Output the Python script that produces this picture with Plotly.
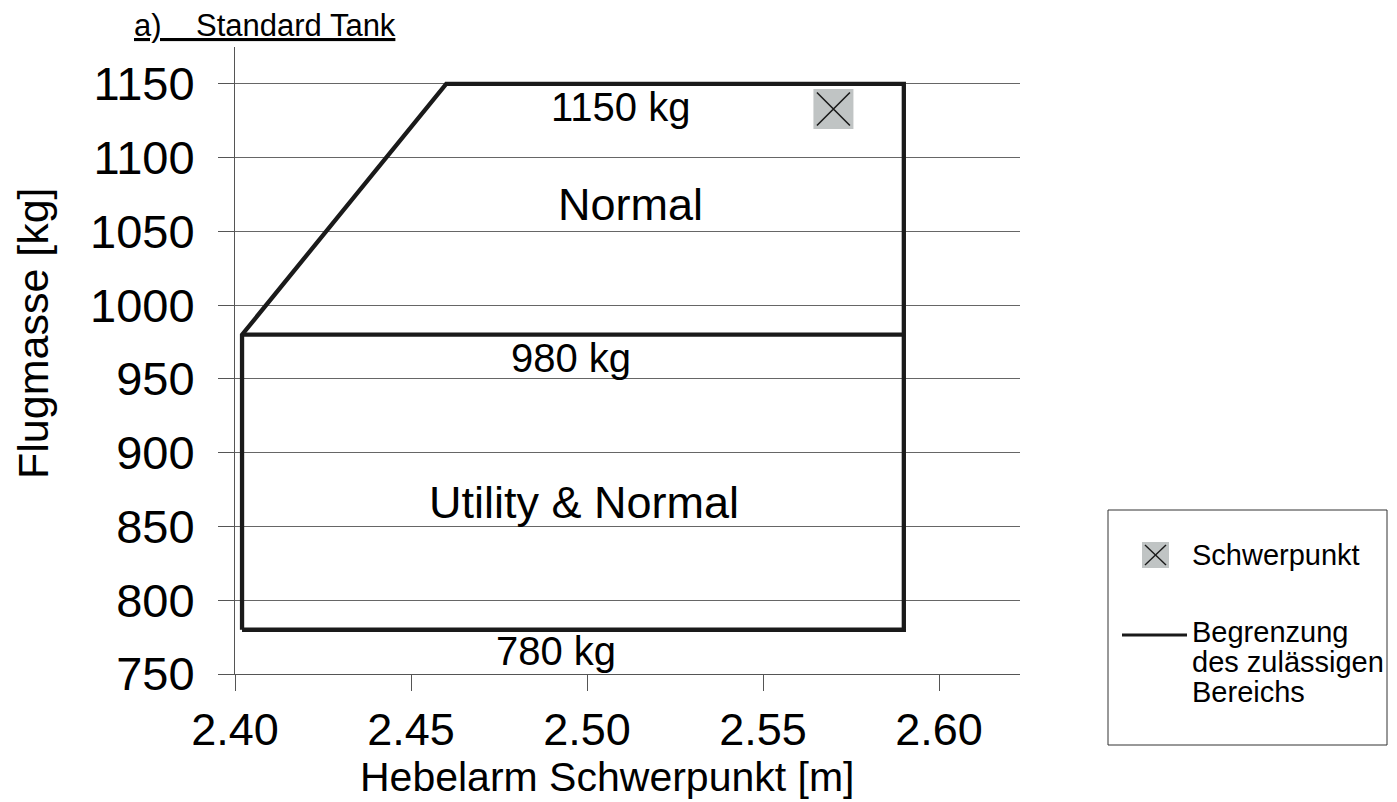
import plotly.graph_objects as go

# ---------------- data ----------------
boundary_x = [2.402, 2.402, 2.46, 2.59, 2.59, 2.402]
boundary_y = [780, 980, 1150, 1150, 780, 780]
divider_x = [2.402, 2.59]
divider_y = [980, 980]
cg_x = [2.57]
cg_y = [1133]
x_ticks = [2.40, 2.45, 2.50, 2.55, 2.60]
x_tick_labels = ["2.40", "2.45", "2.50", "2.55", "2.60"]
y_ticks = [750, 800, 850, 900, 950, 1000, 1050, 1100, 1150]
y_tick_labels = [str(v) for v in y_ticks]
limit_labels = ["1150 kg", "980 kg", "780 kg"]
limit_values = [1150, 980, 780]
region_labels = ["Normal", "Utility & Normal"]
title_text = "a)\u00a0\u00a0\u00a0\u00a0Standard Tank"
x_title = "Hebelarm Schwerpunkt [m]"
y_title = "Flugmasse [kg]"
legend_cg = "Schwerpunkt"
legend_limit = ["Begrenzung", "des zulässigen", "Bereichs"]

FONT = "Liberation Sans, Arial, sans-serif"
W, H = 1397, 802
L, R, T, B = 235, 1020, 47, 674   # plot area in pixels


def PX(px):
    return (px - L) / (R - L)


def PY(py):
    return (B - py) / (B - T)


fig = go.Figure()

fig.add_trace(go.Scatter(
    x=boundary_x + [None] + divider_x,
    y=boundary_y + [None] + divider_y,
    mode="lines",
    line=dict(color="#1a1a1a", width=4.3),
    hoverinfo="skip", showlegend=False, connectgaps=False,
))
fig.add_trace(go.Scatter(
    x=cg_x, y=cg_y, mode="markers",
    marker=dict(symbol="square", size=40, color="#C0C4C4", line=dict(width=0)),
    hoverinfo="skip", showlegend=False,
))
fig.add_trace(go.Scatter(
    x=cg_x, y=cg_y, mode="markers",
    marker=dict(symbol="x-thin", size=33, line=dict(width=1.6, color="#1a1a1a")),
    hoverinfo="skip", showlegend=False,
))

ann = []
limit_pos = {1150: (620, 107), 980: (571, 358), 780: (556, 651)}
for txt, v in zip(limit_labels, limit_values):
    px, py = limit_pos[v]
    ann.append(dict(text=txt, x=PX(px), y=PY(py), xref="paper", yref="paper",
                    showarrow=False, xanchor="center", yanchor="middle",
                    font=dict(family=FONT, size=40, color="black")))
region_pos = [(630, 205), (584, 502)]
for txt, (px, py) in zip(region_labels, region_pos):
    ann.append(dict(text=txt, x=PX(px), y=PY(py), xref="paper", yref="paper",
                    showarrow=False, xanchor="center", yanchor="middle",
                    font=dict(family=FONT, size=45, color="black")))
# title
ann.append(dict(text="<u>" + title_text + "</u>", x=PX(132), y=PY(26), xref="paper", yref="paper",
                showarrow=False, xanchor="left", yanchor="middle",
                font=dict(family=FONT, size=31, color="black")))
# axis titles
ann.append(dict(text=x_title, x=PX(607), y=PY(777), xref="paper", yref="paper",
                showarrow=False, xanchor="center", yanchor="middle",
                font=dict(family=FONT, size=41, color="black")))
ann.append(dict(text=y_title, x=PX(33), y=PY(333), xref="paper", yref="paper",
                showarrow=False, xanchor="center", yanchor="middle", textangle=-90,
                font=dict(family=FONT, size=43, color="black")))
# legend texts
ann.append(dict(text=legend_cg, x=PX(1190), y=PY(555), xref="paper", yref="paper",
                showarrow=False, xanchor="left", yanchor="middle",
                font=dict(family=FONT, size=29, color="black")))
for i, t in enumerate(legend_limit):
    ann.append(dict(text=t, x=PX(1190), y=PY(632 + 30 * i), xref="paper", yref="paper",
                    showarrow=False, xanchor="left", yanchor="middle",
                    font=dict(family=FONT, size=29, color="black")))

shapes = [
    dict(type="rect", xref="paper", yref="paper", x0=PX(1108), x1=PX(1387), y0=PY(745), y1=PY(510),
         line=dict(color="#333333", width=1), fillcolor="white", layer="below"),
    dict(type="rect", xref="paper", yref="paper", x0=PX(1142), x1=PX(1169), y0=PY(568), y1=PY(542),
         line=dict(width=0), fillcolor="#C0C4C4"),
    dict(type="line", xref="paper", yref="paper", x0=PX(1145), x1=PX(1166), y0=PY(545), y1=PY(565),
         line=dict(color="#1a1a1a", width=1.4)),
    dict(type="line", xref="paper", yref="paper", x0=PX(1145), x1=PX(1166), y0=PY(565), y1=PY(545),
         line=dict(color="#1a1a1a", width=1.4)),
    dict(type="line", xref="paper", yref="paper", x0=PX(1122), x1=PX(1187), y0=PY(635), y1=PY(635),
         line=dict(color="#1a1a1a", width=3)),
]

fig.update_layout(
    width=W, height=H,
    margin=dict(l=L, r=W - R, t=T, b=H - B, pad=0),
    paper_bgcolor="white", plot_bgcolor="white",
    showlegend=False, hovermode=False,
    annotations=ann, shapes=shapes,
    font=dict(family=FONT, color="black"),
)
fig.update_xaxes(
    range=[2.40, 2.623], tickmode="array", tickvals=x_ticks, ticktext=x_tick_labels,
    ticks="outside", ticklen=16, tickcolor="#555555", tickwidth=1,
    showgrid=False, zeroline=False, showline=True, linecolor="#555555", linewidth=1,
    tickfont=dict(family=FONT, size=45, color="black"),
)
fig.update_yaxes(
    range=[750, 1175], tickmode="array", tickvals=y_ticks, ticktext=y_tick_labels,
    ticks="outside", ticklen=16, tickcolor="#555555", tickwidth=1,
    ticklabelstandoff=14,
    showgrid=True, gridcolor="#666666", gridwidth=1,
    zeroline=False, showline=True, linecolor="#555555", linewidth=1,
    tickfont=dict(family=FONT, size=47, color="black"),
)

fig.write_html("out.html", config={"displayModeBar": False},
               post_script="document.body.style.margin='0';document.body.style.overflow='hidden';")
